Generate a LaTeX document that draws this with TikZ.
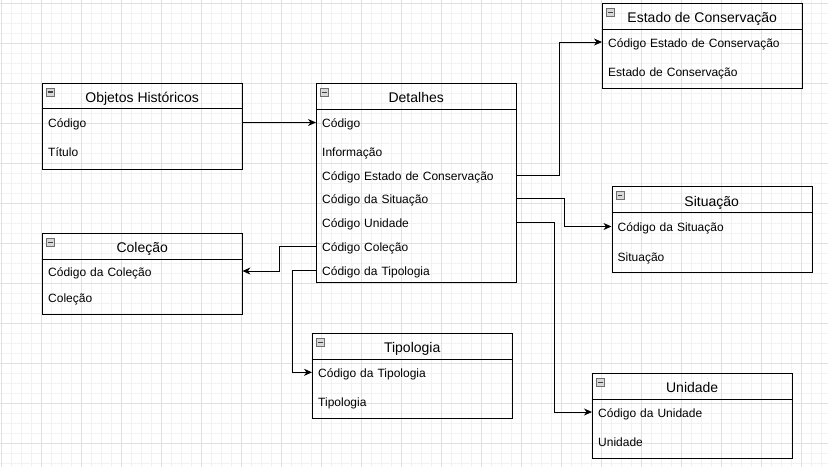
\documentclass[tikz,border=0pt]{standalone}
\usepackage{fontspec}
\setmainfont{Liberation Sans}
\usetikzlibrary{arrows.meta}
\definecolor{gridmajor}{HTML}{E0E0E0}
\definecolor{gridminor}{HTML}{F2F2F2}
\definecolor{iconfill}{HTML}{D8D8D8}
\definecolor{iconline}{HTML}{6E6E6E}
\tikzset{
  tbl/.style={draw, line width=1pt, minimum width=200pt, inner sep=0pt, anchor=north west},
  hdr/.style={minimum width=200pt, minimum height=26pt, inner sep=0pt, anchor=north west, text height=13pt, text depth=0pt, font=\fontsize{14}{16}\selectfont},
  fld/.style={anchor=west, text width=188pt, inner xsep=6pt, inner ysep=2pt, text height=12pt, text depth=2pt, align=left, font=\fontsize{12}{14}\selectfont},
  icon/.style={draw=iconline, fill=iconfill, minimum size=8pt, inner sep=0pt, line width=0.8pt,
    path picture={\draw[line width=1.2pt, black!75] ([xshift=1.8pt]path picture bounding box.west) -- ([xshift=-1.8pt]path picture bounding box.east);}},
  conn/.style={draw, line width=1pt, -{Stealth[length=8pt,width=7pt,inset=2.5pt]}},
}
\newcommand\ertable[5]{%
  \node[tbl, minimum height=#4pt] (#1) at (#2,#3) {};
  \node[hdr] (#1h) at (#2,#3) {#5};
  \draw[line width=1pt] (#1h.south west) -- (#1h.south east);
  \node[icon] (#1i) at ([shift={(8.5,9.5)}]#1.north west) {};
}
\begin{document}
\begin{tikzpicture}[x=1pt,y=-1pt]
\useasboundingbox (0,0) rectangle (828,467);
% grid
\foreach \gx in {1,11,...,828} \draw[gridminor, line width=0.8pt] (\gx,0) -- (\gx,467);
\foreach \gy in {3,13,...,467} \draw[gridminor, line width=0.8pt] (0,\gy) -- (828,\gy);
\foreach \gx in {1,41,...,828} \draw[gridmajor, line width=0.8pt] (\gx,0) -- (\gx,467);
\foreach \gy in {3,43,...,467} \draw[gridmajor, line width=0.8pt] (0,\gy) -- (828,\gy);

% tables
\ertable{obj}{42}{82.5}{86}{Objetos Históricos}
\node[fld] (o1) at (42,122.5) {Código};
\node[fld] (o2) at (42,151.7) {Título};

\ertable{det}{316}{82.7}{199.3}{Detalhes}
\node[fld] (d1) at (316,122.5) {Código};
\node[fld] (d2) at (316,151.7) {Informação};
\node[fld] (d3) at (316,175) {Código Estado de Conservação};
\node[fld] (d4) at (316,198.5) {Código da Situação};
\node[fld] (d5) at (316,222.5) {Código Unidade};
\node[fld] (d6) at (316,246.5) {Código Coleção};
\node[fld] (d7) at (316,270.5) {Código da Tipologia};

\ertable{est}{602}{2.7}{85.6}{Estado de Conservação}
\node[fld] (e1) at (602,42) {Código Estado de Conservação};
\node[fld] (e2) at (602,71.7) {Estado de Conservação};

\ertable{sit}{611.5}{186.3}{85.7}{Situação}
\node[fld] (s1) at (611.5,226.5) {Código da Situação};
\node[fld] (s2) at (611.5,256) {Situação};

\ertable{uni}{592}{372.7}{85.3}{Unidade}
\node[fld] (u1) at (592,412) {Código da Unidade};
\node[fld] (u2) at (592,441.5) {Unidade};

\ertable{tip}{312}{332.7}{85.6}{Tipologia}
\node[fld] (t1) at (312,372.3) {Código da Tipologia};
\node[fld] (t2) at (312,401.5) {Tipologia};

\ertable{col}{42}{232.7}{81.6}{Coleção}
\node[fld] (c1) at (42,271) {Código da Coleção};
\node[fld] (c2) at (42,297) {Coleção};

% connectors
\draw[conn] (o1.east) -- (d1.west);
\draw[conn] (d3.east) -- ++(43,0) |- (e1.west);
\draw[conn] (d4.east) -- ++(48,0) |- (s1.west);
\draw[conn] (d5.east) -- ++(38,0) |- (u1.west);
\draw[conn] (d6.west) -- ++(-37,0) |- (c1.east);
\draw[conn] (d7.west) -- ++(-24,0) |- (t1.west);
\end{tikzpicture}
\end{document}
